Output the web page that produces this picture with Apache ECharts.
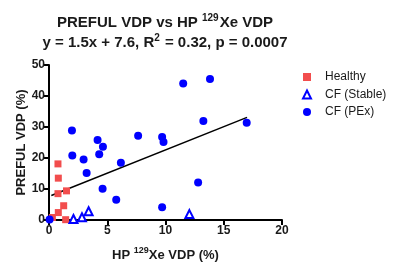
<!DOCTYPE html>
<html>
<head>
<meta charset="utf-8">
<script src="https://cdn.jsdelivr.net/npm/echarts@6/dist/echarts.min.js"></script>
<style>
  html, body { margin: 0; padding: 0; background: #fff; }
  #Chart { width: 400px; height: 273px; }
</style>
</head>
<body>
<div id="Chart"></div>
<script>
var healthyX = [0.29, 0.77, 0.8, 0.77, 1.5, 1.26, 0.8, 1.43];
var healthyY = [0.8, 18.1, 13.5, 8.5, 9.4, 4.6, 2.4, 0.1];

var stableX = [2.1, 2.83, 3.4, 12.05];
var stableY = [0.3, 0.9, 2.8, 1.9];

var pexX = [0.05, 1.97, 2.0, 2.97, 3.23, 4.17, 4.31, 4.63, 4.6, 5.77, 6.17, 7.65, 9.71, 9.83, 9.71, 11.52, 12.8, 13.82, 13.25, 16.97];
var pexY = [0.2, 28.9, 20.8, 19.5, 15.2, 25.8, 21.2, 23.6, 10.1, 6.5, 18.5, 27.2, 26.8, 25.2, 4.1, 44.0, 12.1, 45.5, 31.9, 31.4];

var fitX = [0.2, 17];
var fitY = [7.9, 33.1];

var xTicks = [0, 20, 5];
var yTicks = [0, 50, 10];

function pairs(xs, ys) {
    return xs.map(function (x, i) { return [x, ys[i]]; });
}

var font = 'Liberation Sans, Arial, sans-serif';
var dark = '#1a1a1a';
var red = '#f24d4d';
var blue = '#0000ff';

var Chart = echarts.init(document.getElementById('Chart'));

var ChartOption = {
    animation: false,
    title: {
        text: '{b|PREFUL VDP vs HP }{sup|129}{b|Xe VDP}\n{b|y = 1.5x + 7.6, R}{sup|2}{b| = 0.32, p = 0.0007}',
        left: 160,
        textAlign: 'center',
        top: 8,
        textStyle: {
            rich: {
                b: { fontFamily: font, fontWeight: 'bold', fontSize: 15, color: dark, lineHeight: 20 },
                sup: { fontFamily: font, fontWeight: 'bold', fontSize: 10, color: dark, lineHeight: 20, verticalAlign: 'top', padding: [0, 1, 0, 0] }
            }
        }
    },
    legend: {
        orient: 'vertical',
        left: 297,
        top: 66,
        itemWidth: 8,
        itemHeight: 8,
        itemGap: 5.5,
        textStyle: { fontFamily: font, fontSize: 12, color: dark, padding: [0, 0, 0, 9] },
        data: ['Healthy', 'CF (Stable)', 'CF (PEx)']
    },
    grid: { left: 49, right: 118, top: 65, bottom: 53 },
    xAxis: {
        type: 'value',
        min: xTicks[0],
        max: xTicks[1],
        interval: xTicks[2],
        name: '{b|HP }{sup|129}{b|Xe VDP (%)}',
        nameLocation: 'middle',
        nameGap: 26,
        nameTextStyle: {
            rich: {
                b: { fontFamily: font, fontWeight: 'bold', fontSize: 13, color: dark, lineHeight: 18 },
                sup: { fontFamily: font, fontWeight: 'bold', fontSize: 9, color: dark, lineHeight: 18, verticalAlign: 'top' }
            }
        },
        splitLine: { show: false },
        axisLine: { onZero: false, lineStyle: { color: '#000', width: 2 } },
        axisTick: { length: 5, lineStyle: { color: '#000', width: 2 } },
        axisLabel: { fontFamily: font, fontWeight: 'bold', fontSize: 12, color: dark, margin: 5 }
    },
    yAxis: {
        type: 'value',
        min: yTicks[0],
        max: yTicks[1],
        interval: yTicks[2],
        name: 'PREFUL VDP (%)',
        nameLocation: 'middle',
        nameGap: 21,
        nameMoveOverlap: false,
        nameTextStyle: { fontFamily: font, fontWeight: 'bold', fontSize: 13, color: dark },
        splitLine: { show: false },
        axisLine: { show: true, onZero: false, lineStyle: { color: '#000', width: 2 } },
        axisTick: { show: true, length: 5, lineStyle: { color: '#000', width: 2 } },
        axisLabel: { fontFamily: font, fontWeight: 'bold', fontSize: 12, color: dark, margin: 4 }
    },
    series: [
        {
            name: 'fit',
            type: 'line',
            data: pairs(fitX, fitY),
            symbol: 'none',
            lineStyle: { color: '#000', width: 1.5 },
            z: 1
        },
        {
            name: 'Healthy',
            type: 'scatter',
            symbol: 'rect',
            symbolSize: 7,
            itemStyle: { color: red, opacity: 1 },
            data: pairs(healthyX, healthyY),
            z: 3
        },
        {
            name: 'CF (Stable)',
            type: 'scatter',
            symbol: 'triangle',
            symbolSize: 8,
            itemStyle: { color: '#fff', borderColor: blue, borderWidth: 2, opacity: 1 },
            data: pairs(stableX, stableY),
            z: 3
        },
        {
            name: 'CF (PEx)',
            type: 'scatter',
            symbol: 'circle',
            symbolSize: 8,
            itemStyle: { color: blue, opacity: 1 },
            data: pairs(pexX, pexY),
            z: 3
        }
    ]
};

Chart.setOption(ChartOption);
window.addEventListener("resize", function () {
    Chart.resize();
});
</script>
</body>
</html>
